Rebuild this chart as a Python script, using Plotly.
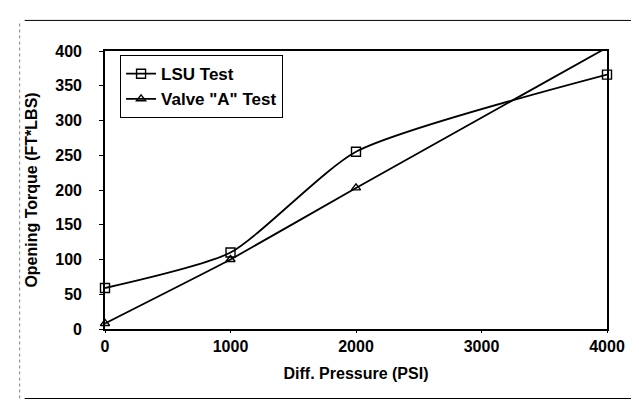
import plotly.graph_objects as go

pressure = [0, 1000, 2000, 4000]
lsu_torque = [59, 110, 255, 366]
valve_a_torque = [8, 100, 203, 405]
x_ticks = [0, 1000, 2000, 3000, 4000]
y_ticks = [0, 50, 100, 150, 200, 250, 300, 350, 400]

FONT = "Liberation Sans, Arial"

fig = go.Figure()
fig.add_trace(go.Scatter(
    x=pressure, y=lsu_torque, name="LSU Test", mode="lines+markers",
    line=dict(color="black", width=1.8, shape="spline", smoothing=0.6),
    marker=dict(symbol="square-open", size=9, color="black", line=dict(width=1.4)),
    cliponaxis=False))
fig.add_trace(go.Scatter(
    x=pressure, y=valve_a_torque, name='Valve "A" Test', mode="lines+markers",
    line=dict(color="black", width=1.8, shape="spline", smoothing=0.3),
    marker=dict(symbol="triangle-up-open", size=8, color="black", line=dict(width=1.4)),
    cliponaxis=False))

fig.update_layout(
    width=639, height=400,
    margin=dict(l=97, r=40, t=43, b=79),
    paper_bgcolor="white", plot_bgcolor="white",
    font=dict(family=FONT, color="black", size=12),
    showlegend=True,
    legend=dict(x=0.03, y=0.985, xanchor="left", yanchor="top",
                bordercolor="black", borderwidth=1, bgcolor="white",
                font=dict(size=17, family=FONT, weight="bold"),
                itemwidth=30, tracegroupgap=0),
    xaxis=dict(range=[0, 4000], tickvals=x_ticks, showgrid=False, zeroline=False,
               showline=True, linecolor="black", linewidth=1.6, mirror=True,
               ticks="outside", ticklen=2, tickcolor="black", ticklabelstandoff=0,
               tickfont=dict(size=16, family=FONT, weight="bold"),
               title=dict(text="<b>Diff. Pressure (PSI)</b>", font=dict(size=16), standoff=14)),
    yaxis=dict(range=[0, 400], tickvals=y_ticks, showgrid=False, zeroline=False,
               showline=True, linecolor="black", linewidth=1.6, mirror=True,
               ticks="outside", ticklen=4, tickcolor="black", ticklabelstandoff=14,
               tickfont=dict(size=16, family=FONT, weight="bold"),
               title=dict(text="<b>Opening Torque (FT*LBS)</b>", font=dict(size=16), standoff=14)),
)

# outer chart frame
fig.add_shape(type="line", xref="paper", yref="paper", x0=-0.16, x1=1.08, y0=1.11, y1=1.11,
              line=dict(color="black", width=1))
fig.add_shape(type="line", xref="paper", yref="paper", x0=-0.16, x1=1.08, y0=-0.25, y1=-0.25,
              line=dict(color="black", width=1))
fig.add_shape(type="line", xref="paper", yref="paper", x0=-0.17, x1=-0.17, y0=-0.25, y1=1.11,
              line=dict(color="gray", width=1, dash="dot"))

fig.write_html("out.html")
